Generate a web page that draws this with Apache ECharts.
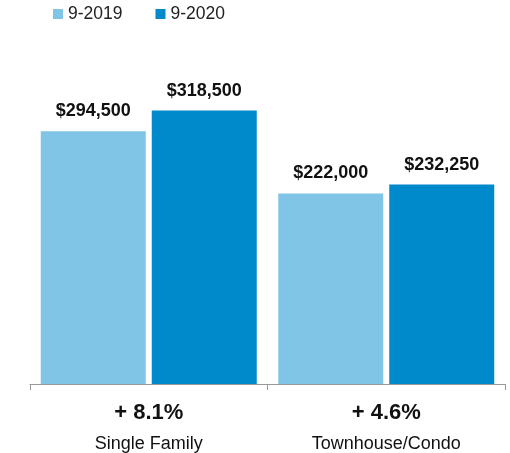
<!DOCTYPE html>
<html><head><meta charset="utf-8">
<script src="https://cdn.jsdelivr.net/npm/echarts@6/dist/echarts.min.js"></script>
<style>html,body{margin:0;padding:0;background:#fff}#c{width:510px;height:453px}</style>
</head><body><div id="c"></div>
<script>
const categories = ['Single Family', 'Townhouse/Condo'];
const changes = ['+ 8.1%', '+ 4.6%'];
const seriesNames = ['9-2019', '9-2020'];
const values2019 = [294500, 222000];
const values2020 = [318500, 232250];
const colors = ['#80c5e5', '#0089cb'];

const chart = echarts.init(document.getElementById('c'), null, {renderer: 'canvas'});
const font = 'Liberation Sans, Arial, Helvetica, sans-serif';
const labelCfg = {
  show: true, position: 'top', distance: 11,
  fontFamily: font, fontWeight: 'bold', fontSize: 18, color: '#111',
  formatter: p => '$' + p.value.toLocaleString('en-US')
};
chart.setOption({
  animation: false,
  legend: {
    left: 48, top: 0, itemWidth: 10, itemHeight: 10, itemGap: 33,
    icon: 'rect',
    textStyle: {fontFamily: font, fontSize: 17.5, color: '#222'},
    data: seriesNames
  },
  grid: {left: 30, right: 5, top: 40.6, bottom: 66},
  xAxis: {
    type: 'category', data: categories,
    axisLine: {lineStyle: {color: '#999'}},
    axisTick: {show: true, length: 6, lineStyle: {color: '#999'}},
    axisLabel: {
      margin: 14,
      formatter: (v, i) => '{a|' + changes[i] + '}\n{b|' + v + '}',
      rich: {
        a: {fontFamily: font, fontWeight: 'bold', fontSize: 22, color: '#111', lineHeight: 30},
        b: {fontFamily: font, fontSize: 18, color: '#111', lineHeight: 32}
      }
    }
  },
  yAxis: {type: 'value', min: 0, max: 400000, show: false, splitLine: {show: false}},
  series: [
    {name: seriesNames[0], type: 'bar', data: values2019, itemStyle: {color: colors[0]},
     barWidth: 105, barGap: '5.7%', label: labelCfg},
    {name: seriesNames[1], type: 'bar', data: values2020, itemStyle: {color: colors[1]},
     barWidth: 105, label: labelCfg}
  ]
});
</script></body></html>
